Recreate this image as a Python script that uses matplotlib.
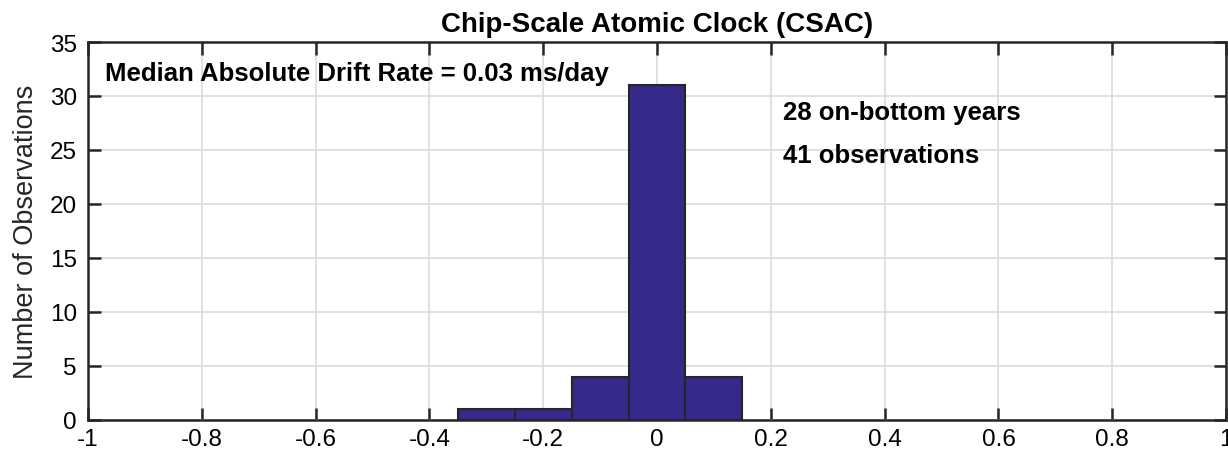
import matplotlib
matplotlib.use("Agg")
import matplotlib.pyplot as plt
import numpy as np

plt.rcParams["font.family"] = ["Liberation Sans", "DejaVu Sans"]

# Histogram of clock drift rates (ms/day), bin width 0.1
bin_centers = [-0.3, -0.2, -0.1, 0.0, 0.1]
counts = [1, 1, 4, 31, 4]
bin_width = 0.1

title = "Chip-Scale Atomic Clock (CSAC)"
ylabel = "Number of Observations"
median_text = "Median Absolute Drift Rate = 0.03 ms/day"
years_text = "28 on-bottom years"
obs_text = "41 observations"

x_ticks = [-1, -0.8, -0.6, -0.4, -0.2, 0, 0.2, 0.4, 0.6, 0.8, 1]
x_ticklabels = ["-1", "-0.8", "-0.6", "-0.4", "-0.2", "0", "0.2", "0.4", "0.6", "0.8", "1"]
y_ticks = [0, 5, 10, 15, 20, 25, 30, 35]

fig = plt.figure(figsize=(12.28, 4.56), dpi=100)
ax = fig.add_axes([0.0717, 0.0768, 0.9267, 0.8289])

ax.bar(bin_centers, counts, width=bin_width, color="#35298a",
       edgecolor="#262626", linewidth=1.5, zorder=3)

ax.set_xlim(-1, 1)
ax.set_ylim(0, 35)
ax.set_xticks(x_ticks)
ax.set_xticklabels(x_ticklabels)
ax.set_yticks(y_ticks)

ax.grid(True, color="#dcdcdc", linewidth=1.2, zorder=0)
ax.set_axisbelow(True)
ax.tick_params(direction="in", length=9, width=1.8, color="#262626",
               labelsize=17.5, top=True, right=True, pad=6)
ax.tick_params(axis="y", pad=8)
for s in ax.spines.values():
    s.set_linewidth(1.8)
    s.set_color("#262626")
    s.set_zorder(5)

ax.set_title(title, fontsize=20, fontweight="bold", pad=8)
ax.set_ylabel(ylabel, fontsize=19.5, labelpad=8, color="#262626")

ax.text(-0.97, 32.1, median_text, fontsize=18.5, fontweight="bold", va="center", ha="left")
ax.text(0.221, 28.5, years_text, fontsize=18.5, fontweight="bold", va="center", ha="left")
ax.text(0.221, 24.5, obs_text, fontsize=18.5, fontweight="bold", va="center", ha="left")

fig.savefig("out.png", dpi=100)
